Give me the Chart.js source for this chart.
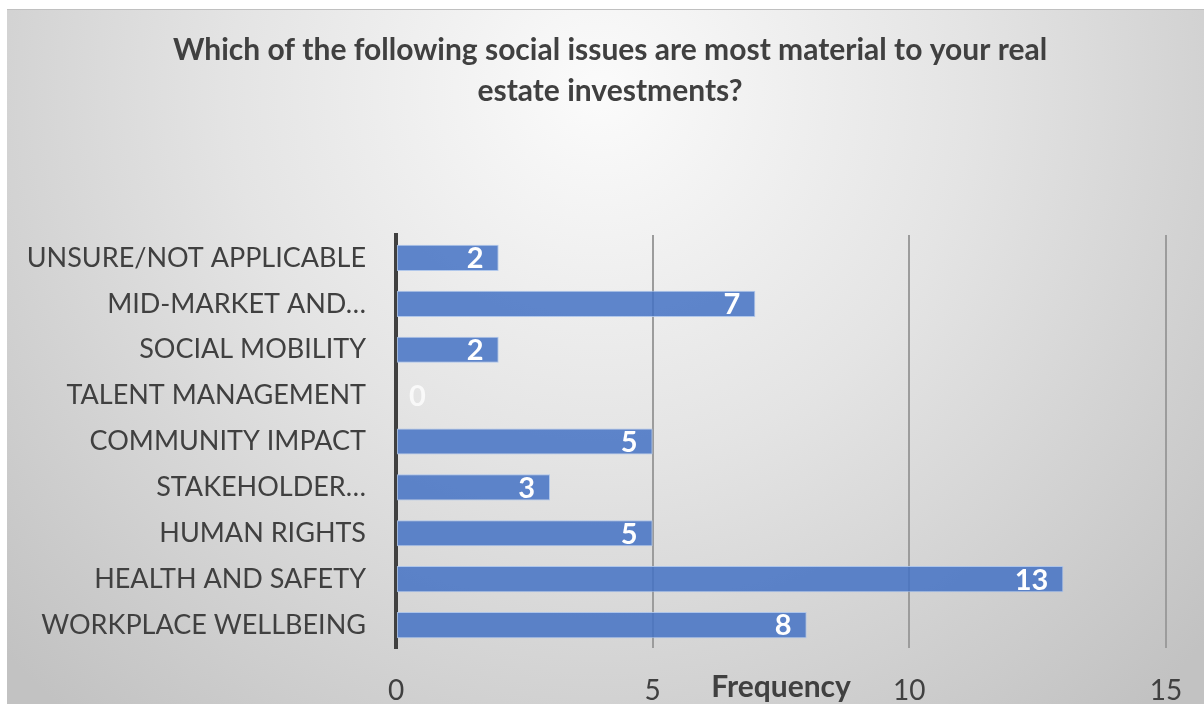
<!DOCTYPE html>
<html>
<head>
    <title>Social issues</title>
    <script src="https://cdn.jsdelivr.net/npm/chart.js"></script>
    <style>
        body {
            margin: 0;
            background-color: #ffffff;
        }
        #wrap {
            width: 1204px;
            height: 704px;
        }
    </style>
</head>
<body>
    <div id="wrap">
        <canvas id="issuesChart" width="1204" height="704"></canvas>
    </div>

    <script>
        var categories = [
            "UNSURE/NOT APPLICABLE",
            "MID-MARKET AND\u2026",
            "SOCIAL MOBILITY",
            "TALENT MANAGEMENT",
            "COMMUNITY IMPACT",
            "STAKEHOLDER\u2026",
            "HUMAN RIGHTS",
            "HEALTH AND SAFETY",
            "WORKPLACE WELLBEING"
        ];
        var frequency = [2, 7, 2, 0, 5, 3, 5, 13, 8];
        var xTicks = [0, 5, 10, 15];
        var titleLines = [
            'Which of the following social issues are most material to your real',
            'estate investments?'
        ];

        var fontFamily = "Lato, 'Open Sans', sans-serif";
        var textColor = '#404040';

        // panel background with a soft radial fill, plus the centred title
        var backgroundPlugin = {
            id: 'panelBackground',
            beforeDraw: function(chart) {
                var c = chart.ctx;
                c.save();
                c.fillStyle = '#ffffff';
                c.fillRect(0, 0, chart.width, chart.height);
                var g = c.createRadialGradient(600, 90, 0, 600, 90, 820);
                g.addColorStop(0, '#fbfbfb');
                g.addColorStop(0.45, '#e4e4e4');
                g.addColorStop(1, '#c2c2c2');
                c.fillStyle = g;
                c.fillRect(7, 9, chart.width - 7, chart.height - 9);
                c.fillStyle = '#c0c0c0';
                c.fillRect(7, 9, chart.width - 7, 1);

                // title sits over the whole panel, not just the plot
                c.font = 'bold 30px ' + fontFamily;
                c.fillStyle = textColor;
                c.textAlign = 'center';
                c.textBaseline = 'middle';
                var cx = chart.width / 2 + 8;
                titleLines.forEach(function(line, i) {
                    c.fillText(line, cx, 50 + i * 41);
                });
                c.restore();
            }
        };

        // white value labels at the inside end of each bar
        var valueLabelPlugin = {
            id: 'valueLabels',
            afterDatasetsDraw: function(chart) {
                var c = chart.ctx;
                var meta = chart.getDatasetMeta(0);
                c.save();
                c.font = 'bold 29px ' + fontFamily;
                c.fillStyle = '#ffffff';
                c.textBaseline = 'middle';
                meta.data.forEach(function(bar, i) {
                    var v = frequency[i];
                    if (v === 0) {
                        c.globalAlpha = 0.75;
                        c.textAlign = 'left';
                        c.fillText(String(v), bar.base + 13, bar.y + 1);
                        c.globalAlpha = 1;
                    } else {
                        c.textAlign = 'right';
                        c.fillText(String(v), bar.x - 15, bar.y + 1);
                    }
                });
                c.restore();
            }
        };

        var ctx = document.getElementById('issuesChart').getContext('2d');
        var issuesChart = new Chart(ctx, {
            type: 'bar',
            data: {
                labels: categories,
                datasets: [{
                    data: frequency,
                    backgroundColor: 'rgba(68, 114, 196, 0.85)',
                    borderColor: 'rgba(170, 195, 235, 0.9)',
                    borderWidth: 1,
                    borderSkipped: false,
                    categoryPercentage: 1,
                    barPercentage: 0.57
                }]
            },
            options: {
                indexAxis: 'y',
                responsive: false,
                animation: false,
                layout: {
                    padding: { top: 235, left: 0, right: 38, bottom: 0 }
                },
                plugins: {
                    legend: { display: false },
                    tooltip: { enabled: false },
                    title: { display: false }
                },
                scales: {
                    x: {
                        min: 0,
                        max: 15,
                        afterBuildTicks: function(scale) {
                            scale.ticks = xTicks.map(function(v) { return { value: v }; });
                        },
                        afterFit: function(scale) {
                            scale.height = 56;
                            scale.paddingLeft = 0;
                            scale.paddingRight = 0;
                        },
                        grid: {
                            color: '#9c9c9c',
                            lineWidth: 2,
                            drawTicks: false
                        },
                        border: { display: false },
                        ticks: {
                            color: textColor,
                            padding: 26,
                            font: { family: fontFamily, size: 28 }
                        },
                        title: {
                            display: true,
                            text: 'Frequency',
                            color: textColor,
                            font: { family: fontFamily, size: 30, weight: 'bold' },
                            padding: { top: -56, bottom: -1 }
                        }
                    },
                    y: {
                        afterFit: function(scale) {
                            scale.width = 396;
                        },
                        grid: { display: false, drawTicks: false },
                        border: { display: true, color: '#404040', width: 4 },
                        ticks: {
                            color: textColor,
                            padding: 30,
                            autoSkip: false,
                            font: { family: fontFamily, size: 27 }
                        }
                    }
                }
            },
            plugins: [backgroundPlugin, valueLabelPlugin]
        });
    </script>
</body>
</html>
